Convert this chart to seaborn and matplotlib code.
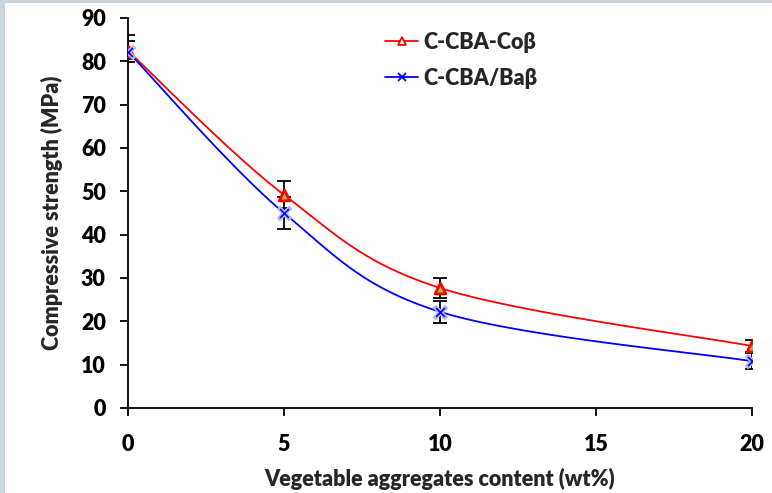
import numpy as np
import pandas as pd
import matplotlib
matplotlib.use("Agg")
import matplotlib.pyplot as plt
from matplotlib.lines import Line2D
from matplotlib.patches import Rectangle
import seaborn as sns

# ---- data ----
content = [0, 5, 10, 20]
co_strength = [82.4, 49.2, 27.7, 14.3]
co_err_low = [1.8, 3.1, 2.2, 1.3]
co_err_high = [3.7, 3.1, 2.4, 1.5]
ba_strength = [82.2, 45.0, 22.2, 10.8]
ba_err_low = [2.4, 3.7, 2.6, 1.8]
ba_err_high = [2.4, 3.7, 2.6, 1.8]
series_names = ["C-CBA-Coβ", "C-CBA/Baβ"]
x_ticks = [0, 5, 10, 15, 20]
y_ticks = [0, 10, 20, 30, 40, 50, 60, 70, 80, 90]
x_label = "Vegetable aggregates content (wt%)"
y_label = "Compressive strength (MPa)"

sns.set_style("white")
plt.rcParams['font.family'] = ['Lato', 'DejaVu Sans']
plt.rcParams['font.weight'] = 'heavy'

FS = 15.5
WT = "heavy"


def smooth(xs, ys, n=40):
    """Excel-style Bezier smoothing through the given points."""
    P = np.column_stack([xs, ys]).astype(float)
    pts = np.vstack([P[0], P, P[-1]])
    out = []
    t = np.linspace(0, 1, n)[:, None]
    for i in range(1, len(pts) - 2):
        p0, p1, p2, p3 = pts[i - 1], pts[i], pts[i + 1], pts[i + 2]
        c1 = p1 + (p2 - p0) / 6.0
        c2 = p2 - (p3 - p1) / 6.0
        seg = ((1 - t) ** 3) * p1 + 3 * ((1 - t) ** 2) * t * c1 + 3 * (1 - t) * t ** 2 * c2 + t ** 3 * p2
        out.append(seg if i == 1 else seg[1:])
    out = np.vstack(out)
    return out[:, 0], out[:, 1]


fig = plt.figure(figsize=(7.72, 4.93), dpi=100)
fig.patch.set_facecolor("white")
fig.patches.append(Rectangle((0, 0), 5 / 772, 1, transform=fig.transFigure,
                             facecolor="#c9d5dd", edgecolor="none", zorder=0))
fig.patches.append(Rectangle((0, 1 - 3 / 493), 1, 3 / 493, transform=fig.transFigure,
                             facecolor="#c9d5dd", edgecolor="none", zorder=0))

ax = fig.add_axes([128 / 772, 1 - 408 / 493, (752 - 128) / 772, (408 - 18) / 493])
ax.set_xlim(0, 20)
ax.set_ylim(0, 90)

colors = ["#ff0000", "#0000ff"]
rows = []
for name, ys in zip(series_names, [co_strength, ba_strength]):
    sx, sy = smooth(content, ys)
    rows.append(pd.DataFrame({"x": sx, "y": sy, "series": name}))
curves = pd.concat(rows, ignore_index=True)
sns.lineplot(data=curves, x="x", y="y", hue="series", palette=colors, sort=False,
             estimator=None, units="series", linewidth=1.3, legend=False, ax=ax, zorder=3)

# error bars
ax.errorbar(content, co_strength, yerr=[co_err_low, co_err_high], fmt="none",
            ecolor="black", elinewidth=1.3, capsize=5, capthick=1.3, zorder=4)
ax.errorbar(content, ba_strength, yerr=[ba_err_low, ba_err_high], fmt="none",
            ecolor="black", elinewidth=1.3, capsize=5, capthick=1.3, zorder=4)

# markers
ax.scatter(content, co_strength, marker="^", s=60, facecolor="#9bbb59",
           edgecolor="#ff0000", linewidth=2.0, zorder=5)
ax.scatter(content, ba_strength, marker="x", s=80, color="#b4b4f0", linewidth=3.5, zorder=5)
ax.scatter(content, ba_strength, marker="x", s=40, color="#0000ff", linewidth=1.2, zorder=6)

ax.set_xticks(x_ticks)
ax.set_yticks(y_ticks)
ax.set_xticklabels([str(v) for v in x_ticks])
ax.set_yticklabels([str(v) for v in y_ticks])
for s in ["top", "right"]:
    ax.spines[s].set_visible(False)
for s in ["left", "bottom"]:
    ax.spines[s].set_color("black")
    ax.spines[s].set_linewidth(1.3)
ax.tick_params(axis="x", direction="out", length=6, width=1.3, pad=13, labelsize=FS, colors="black")
ax.tick_params(axis="y", direction="out", length=6, width=1.3, pad=10, labelsize=FS, colors="black")
ax.tick_params(bottom=True, left=True)
for lab in ax.get_xticklabels() + ax.get_yticklabels():
    lab.set_fontweight(WT)

ax.set_xlabel(x_label, fontsize=FS, fontweight=WT, labelpad=9)
ax.set_ylabel(y_label, fontsize=FS, fontweight=WT, labelpad=13)

handles = [
    Line2D([0], [0], color="#ff0000", lw=1.3, marker="^", markersize=6,
           markerfacecolor="white", markeredgecolor="#ff0000", markeredgewidth=1.3),
    Line2D([0], [0], color="#0000ff", lw=1.3, marker="x", markersize=6,
           markeredgecolor="#0000ff", markeredgewidth=1.3),
]
leg = ax.legend(handles, series_names, loc="upper left", bbox_to_anchor=(238 / 624, 1.014),
                frameon=False, handlelength=1.5, handletextpad=0.25,
                labelspacing=0.7, prop={"weight": WT, "size": FS})

fig.savefig("out.png", dpi=100)
